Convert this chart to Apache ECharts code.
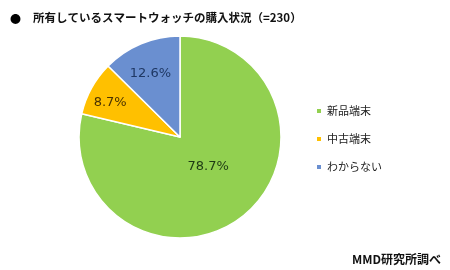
<!DOCTYPE html>
<html><head><meta charset="utf-8">
<script src="https://cdn.jsdelivr.net/npm/echarts@6/dist/echarts.min.js"></script>
<style>html,body{margin:0;padding:0;background:#fff}#c{width:450px;height:270px}</style>
</head><body><div id="c"></div>
<script>
const categories = ['新品端末', '中古端末', 'わからない'];
const values = [78.7, 8.7, 12.6];
const colors = ['#92D050', '#FFC000', '#6A8FD0'];
const labelColors = ['#1E3A14', '#4A3300', '#1F3864'];
const labelShift = [[-5, -12], [-23, -8], [-9, -14]];
const titleText = '所有しているスマートウォッチの購入状況（=230）';
const sourceText = 'MMD研究所調べ';

const font = '"Noto Sans CJK JP", "Noto Sans", sans-serif';
const chart = echarts.init(document.getElementById('c'), null, {renderer: 'canvas'});
chart.setOption({
  animation: false,
  graphic: [
    {type: 'text', left: 10, top: 13, style: {text: '●', font: 'bold 11px ' + font, fill: '#000'}},
    {type: 'text', left: 33, top: 12, style: {text: titleText, font: 'bold 11.5px ' + font, fill: '#111'}},
    {type: 'text', right: 9, bottom: 5, style: {text: sourceText, font: 'bold 12px ' + font, fill: '#111'}}
  ],
  legend: {
    orient: 'vertical', left: 310, top: 99, icon: 'rect', itemWidth: 6, itemHeight: 6, itemGap: 14,
    textStyle: {fontFamily: font, fontSize: 11, color: '#222', lineHeight: 14},
    data: categories
  },
  series: [{
    type: 'pie', center: [180, 137], radius: 101, startAngle: 90, clockwise: true,
    itemStyle: {borderColor: '#fff', borderWidth: 1.5},
    label: {position: 'inside', formatter: '{d}%', fontFamily: 'Verdana, "DejaVu Sans", sans-serif', fontSize: 13},
    labelLayout: function (p) { const s = labelShift[p.dataIndex]; return {dx: s[0], dy: s[1]}; },
    emphasis: {disabled: true},
    data: categories.map((c, i) => ({
      name: c, value: values[i],
      itemStyle: {color: colors[i]},
      label: {color: labelColors[i]}
    }))
  }]
});
</script></body></html>
